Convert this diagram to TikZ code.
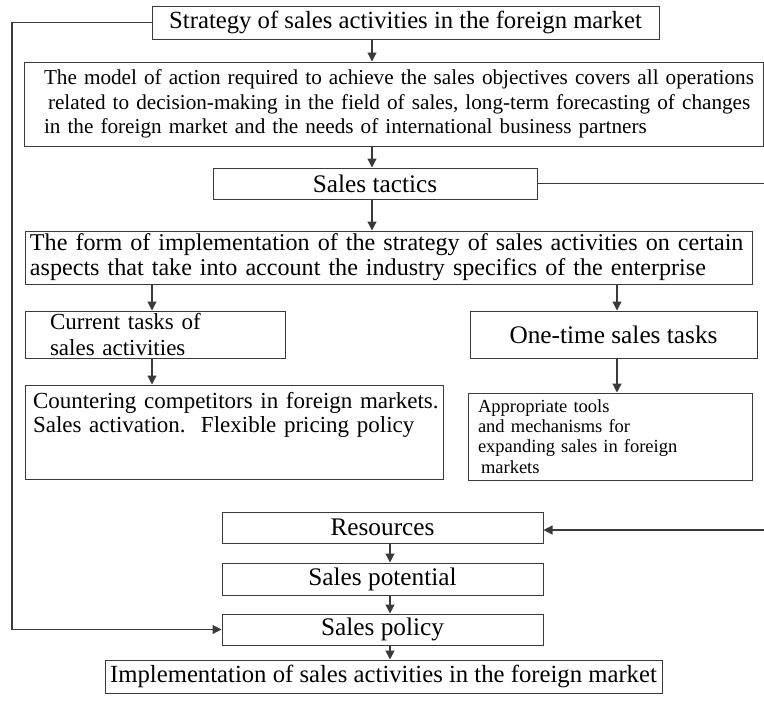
\documentclass[tikz,border=0pt]{standalone}
\usepackage{fontspec}
\setmainfont{Liberation Serif}
\usetikzlibrary{arrows.meta,calc}
\definecolor{lineclr}{HTML}{3A3A3A}
\begin{document}
\begin{tikzpicture}[x=1pt,y=-1pt,
  box/.style={draw=lineclr,line width=1pt,inner sep=0pt,anchor=center,text=black},
  arr/.style={draw=lineclr,line width=1.2pt,-{Triangle[length=9pt,width=9pt]}},
  ln/.style={draw=lineclr,line width=1.2pt},
  big/.style={font=\fontsize{25.3}{28}\selectfont}]
\useasboundingbox (0,0) rectangle (764,718);

\node[box,minimum width=507pt,minimum height=33pt,font=\fontsize{24.7}{28}\selectfont] (strat) at (405.5,22.5)
  {Strategy of sales activities in the foreign market};

\node[box,minimum width=739pt,minimum height=84pt,inner xsep=20pt,text width=699pt,
  align=left,font=\fontsize{21.2}{24.5}\selectfont] (model) at (393.5,104)
  {\mbox{The model of action required to achieve the sales objectives covers all operations}\\
   \mbox{\hspace*{4pt}related to decision-making in the field of sales, long-term forecasting of changes}\\
   \mbox{in the foreign market and the needs of international business partners}};

\node[box,big,minimum width=324pt,minimum height=31pt] (tactics) at (375,183.5) {Sales tactics};

\node[box,minimum width=727pt,minimum height=53pt,inner xsep=5pt,text width=717pt,
  align=left,font=\fontsize{24.1}{25}\selectfont] (form) at (388.5,257.5)
  {\mbox{The form of implementation of the strategy of sales activities on certain}\\
   \mbox{aspects that take into account the industry specifics of the enterprise}};

\node[box,minimum width=260pt,minimum height=47pt,inner xsep=25pt,text width=210pt,
  align=left,font=\fontsize{23}{26}\selectfont] (cur) at (155,334.5)
  {Current tasks of\\sales activities};

\node[box,big,minimum width=287pt,minimum height=47pt] (one) at (613.5,334.5)
  {One-time sales tasks};

\node[box,minimum width=418pt,minimum height=94pt,inner xsep=8pt,text width=402pt,
  align=left,font=\fontsize{23}{24}\selectfont] (counter) at (234,432)
  {\mbox{Countering competitors in foreign markets.}\\
   \mbox{Sales activation.\ \ Flexible pricing policy}\\[16pt]\mbox{}};

\node[box,minimum width=284pt,minimum height=87pt,inner xsep=10pt,text width=264pt,
  align=left,font=\fontsize{18.5}{20.3}\selectfont] (approp) at (610,436.5)
  {Appropriate tools\\and mechanisms for\\expanding sales in foreign\\\hspace*{3pt}markets};

\node[box,big,minimum width=321pt,minimum height=31pt] (res) at (382.5,527.5) {Resources};
\node[box,big,minimum width=321pt,minimum height=32pt] (pot) at (382.5,579) {Sales potential};
\node[box,big,minimum width=321pt,minimum height=31pt] (pol) at (382.5,629.5) {Sales policy};

\node[box,minimum width=557pt,minimum height=33pt,font=\fontsize{24.7}{28}\selectfont]
  (impl) at (383.5,676.5) {Implementation of sales activities in the foreign market};

\coordinate (xa) at (372,0);
\coordinate (xb) at (152,0);
\coordinate (xc) at (617,0);
\coordinate (xd) at (390,0);
\coordinate (lft) at (12,0);
\coordinate (rt1) at (764,183.5);
\coordinate (rt2) at (764,530);

\draw[arr] (strat.south -| xa) -- (model.north -| xa);
\draw[arr] (model.south -| xa) -- (tactics.north -| xa);
\draw[arr] (tactics.south -| xa) -- (form.north -| xa);
\draw[arr] (form.south -| xb) -- (cur.north -| xb);
\draw[arr] (form.south -| xc) -- (one.north -| xc);
\draw[arr] (cur.south -| xb) -- (counter.north -| xb);
\draw[arr] (one.south -| xc) -- (approp.north -| xc);
\draw[arr] (res.south -| xd) -- (pot.north -| xd);
\draw[arr] (pot.south -| xd) -- (pol.north -| xd);
\draw[arr] (pol.south -| xd) -- (impl.north -| xd);

\draw[arr] (strat.west) -- (strat.west -| lft) -- (pol.west -| lft) -- (pol.west);
\draw[ln] (tactics.east) -- (rt1);
\draw[arr] (rt2) -- (res.east |- rt2);
\end{tikzpicture}
\end{document}
